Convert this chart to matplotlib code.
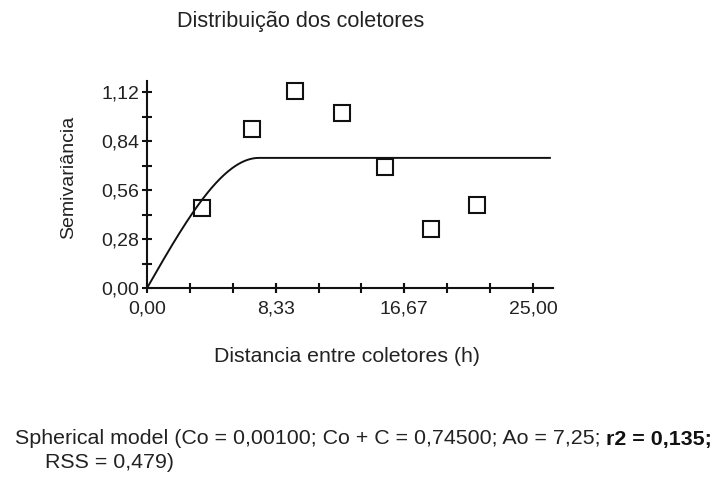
import numpy as np
import matplotlib
matplotlib.use("Agg")
import matplotlib.pyplot as plt
from matplotlib.ticker import FixedLocator, FuncFormatter

plt.rcParams['font.family'] = ['Liberation Sans', 'DejaVu Sans']

# Data
dist = [3.54, 6.78, 9.58, 12.6, 15.42, 18.4, 21.38]
semivar = [0.457, 0.910, 1.129, 1.003, 0.695, 0.339, 0.476]

# Spherical model parameters
c0 = 0.00100
c0_c = 0.74500
a0 = 7.25
x_max_model = 26.1

x_ticks = [0.0, 8.33, 16.67, 25.0]
y_ticks = [0.0, 0.28, 0.56, 0.84, 1.12]

title = "Distribuição dos coletores"
xlabel = "Distancia entre coletores (h)"
ylabel = "Semivariância"
caption1 = "Spherical model (Co = 0,00100; Co + C = 0,74500; Ao = 7,25; "
caption_bold = "r2 = 0,135;"
caption2 = "RSS = 0,479)"

W, H = 713, 480
fig = plt.figure(figsize=(W / 100, H / 100), dpi=100)
ax = fig.add_axes([147 / W, 1 - 288.3 / H, 406 / W, (288.3 - 80.7) / H])

h = np.linspace(0, x_max_model, 400)
c = c0_c - c0
gam = np.where(h <= a0, c0 + c * (1.5 * h / a0 - 0.5 * (h / a0) ** 3), c0_c)
ax.plot(h, gam, color='#111111', lw=1.4)
ax.plot(dist, semivar, linestyle='none', marker='s', markersize=12,
        markerfacecolor='none', markeredgecolor='#111111', markeredgewidth=1.5)

ax.set_xlim(0, 26.3)
ax.set_ylim(0, 1.186)
for s in ['top', 'right']:
    ax.spines[s].set_visible(False)
for s in ['left', 'bottom']:
    ax.spines[s].set_linewidth(1.5)
    ax.spines[s].set_color('#111111')

ax.xaxis.set_major_locator(FixedLocator(x_ticks))
ax.xaxis.set_minor_locator(FixedLocator([25 / 9 * i for i in range(10)]))
ax.yaxis.set_major_locator(FixedLocator(y_ticks))
ax.yaxis.set_minor_locator(FixedLocator([0.14 * i for i in range(9)]))
fmt = FuncFormatter(lambda v, p: f"{v:.2f}".replace('.', ','))
ax.xaxis.set_major_formatter(fmt)
ax.yaxis.set_major_formatter(fmt)
ax.tick_params(which='both', direction='inout', length=7, width=1.5, color='#111111',
               labelsize=14, labelcolor='#222222')
ax.tick_params(axis='x', pad=5)
ax.tick_params(axis='y', pad=2)

fig.text(301 / W, 1 - 22 / H, title, ha='center', va='center', fontsize=15.6, color='#222222')
fig.text(214 / W, 1 - 357 / H, xlabel, ha='left', va='center', fontsize=15.3, color='#222222')
fig.text(69 / W, 1 - 177 / H, ylabel, ha='center', va='center', rotation=90, fontsize=14, color='#222222')

t1 = fig.text(15 / W, 1 - 439 / H, caption1, ha='left', va='center', fontsize=15.4, color='#222222')
fig.canvas.draw()
bb = t1.get_window_extent()
fig.text(bb.x1 / W, 1 - 439 / H, caption_bold, ha='left', va='center', fontsize=15.4,
         fontweight='bold', color='#111111')
fig.text(45 / W, 1 - 462 / H, caption2, ha='left', va='center', fontsize=15.4, color='#222222')

fig.savefig("out.png", dpi=100)
